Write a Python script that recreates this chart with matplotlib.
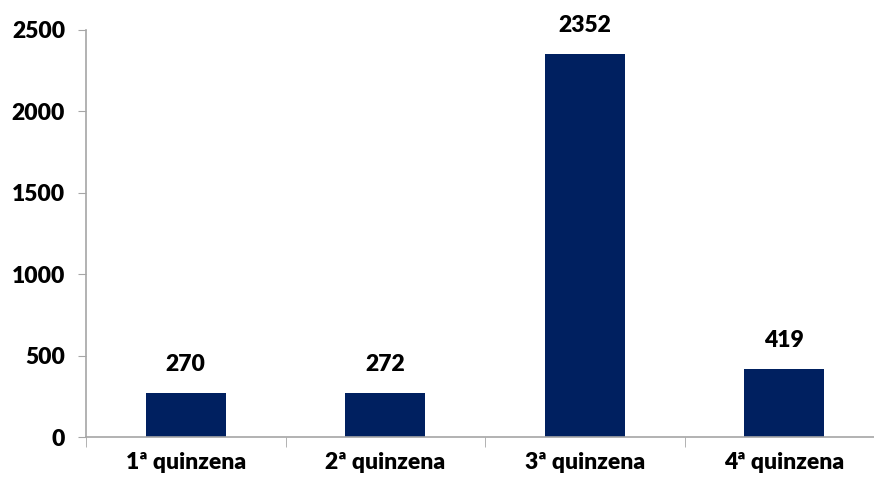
import matplotlib.pyplot as plt
from matplotlib.ticker import FixedLocator
import numpy as np

# Registros por quinzena
categorias = ['1ª quinzena', '2ª quinzena', '3ª quinzena', '4ª quinzena']
valores = [270, 272, 2352, 419]
yticks = [0, 500, 1000, 1500, 2000, 2500]

plt.rcParams['font.family'] = ['Lato', 'DejaVu Sans']
peso = 'heavy'
tam = 16.5

cinza = '#a6a6a6'
fig = plt.figure(figsize=(8.74, 4.84), dpi=100)
ax = fig.add_axes([86 / 874, 1 - 437 / 484, 798 / 874, 407 / 484])

x = np.arange(len(categorias))
barras = ax.bar(x, valores, width=0.4, color='#002060')
for b, v in zip(barras, valores):
    ax.annotate(str(v), (b.get_x() + b.get_width() / 2, v), xytext=(0, 13),
                textcoords='offset points', ha='center', va='bottom',
                fontsize=tam, fontweight=peso)

ax.set_xlim(-0.5, len(categorias) - 0.5)
ax.set_ylim(0, 2500)
ax.set_yticks(yticks)
ax.set_xticks(x)
ax.set_xticklabels(categorias)
ax.xaxis.set_minor_locator(FixedLocator(np.arange(-0.5, len(categorias), 1)))
ax.tick_params(axis='x', which='major', length=0, pad=11, labelsize=tam)
ax.tick_params(axis='x', which='minor', length=7, color=cinza, direction='out')
ax.tick_params(axis='y', length=6, color=cinza, direction='out', labelsize=tam, pad=9)
for lbl in ax.get_xticklabels() + ax.get_yticklabels():
    lbl.set_fontweight(peso)

for lado in ['top', 'right']:
    ax.spines[lado].set_visible(False)
for lado in ['left', 'bottom']:
    ax.spines[lado].set_color(cinza)
    ax.spines[lado].set_linewidth(1.2)

fig.savefig('out.png', dpi=100)
